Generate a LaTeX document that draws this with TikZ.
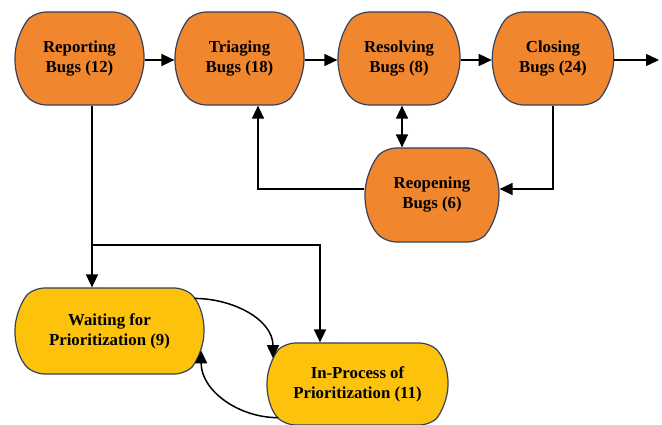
\documentclass[tikz,border=0pt]{standalone}
\usepackage{fontspec}
\setmainfont{Liberation Serif}
\usetikzlibrary{shapes.misc,arrows.meta}
\definecolor{boxorange}{HTML}{F0862E}
\definecolor{boxyellow}{HTML}{FCC20C}
\definecolor{boxedge}{HTML}{34425F}
\tikzset{
  x=1pt,y=-1pt,
  stage/.style={rounded rectangle, rounded rectangle arc length=100, rounded corners=9pt,
    draw=boxedge, line width=1.2pt, fill=boxorange, align=center, inner sep=0pt,
    font=\fontsize{16.8}{20}\selectfont\bfseries},
  prio/.style={stage, fill=boxyellow},
  flow/.style={draw=black, line width=1.5pt, -{Triangle[length=13pt,width=12pt]}},
  flowboth/.style={draw=black, line width=1.5pt, {Triangle[length=13pt,width=12pt]}-{Triangle[length=13pt,width=12pt]}}
}
\begin{document}
\begin{tikzpicture}
\useasboundingbox (0,0) rectangle (662,425);
\node[stage, minimum width=129pt, minimum height=93pt] (rep) at (79.5,58.5) {Reporting\\Bugs (12)};
\node[stage, minimum width=129pt, minimum height=93pt] (tri) at (239.5,58.5) {Triaging\\Bugs (18)};
\node[stage, minimum width=122pt, minimum height=93pt] (res) at (399,58.5) {Resolving\\Bugs (8)};
\node[stage, minimum width=116pt, minimum height=93pt] (clo) at (553,58.5) {Closing\\Bugs (24)};
\node[stage, minimum width=134pt, minimum height=94pt] (reo) at (432,195) {Reopening\\Bugs (6)};
\node[prio, minimum width=189pt, minimum height=86pt] (wai) at (109.5,331) {Waiting for\\Prioritization (9)};
\node[prio, minimum width=181pt, minimum height=82pt] (inp) at (357.5,384) {In-Process of\\Prioritization (11)};
\coordinate (exit) at (659,60);
\coordinate (j) at (92,245);
\coordinate (jr) at (320,245);
\coordinate (lt) at (258,189);
\coordinate (rt) at (553,189);
\draw[flow] (rep.east |- 0,60) -- (tri.west |- 0,60);
\draw[flow] (tri.east |- 0,60) -- (res.west |- 0,60);
\draw[flow] (res.east |- 0,60) -- (clo.west |- 0,60);
\draw[flow] (clo.east |- 0,60) -- (exit);
\draw[flowboth] (res.south -| 402,0) -- (reo.north -| 402,0);
\draw[flow] (reo.west |- lt) -- (lt) -- (tri.south -| lt);
\draw[flow] (clo.south -| rt) -- (rt) -- (reo.east |- rt);
\draw[flow] (rep.south -| j) -- (j) -- (wai.north -| j);
\draw[flow] (j) -- (jr) -- (inp.north -| jr);
\draw[flow] (wai.21) to[out=0,in=90] (inp.163);
\draw[flow] (inp.203) to[out=180,in=-90] (wai.-12);
\end{tikzpicture}
\end{document}
